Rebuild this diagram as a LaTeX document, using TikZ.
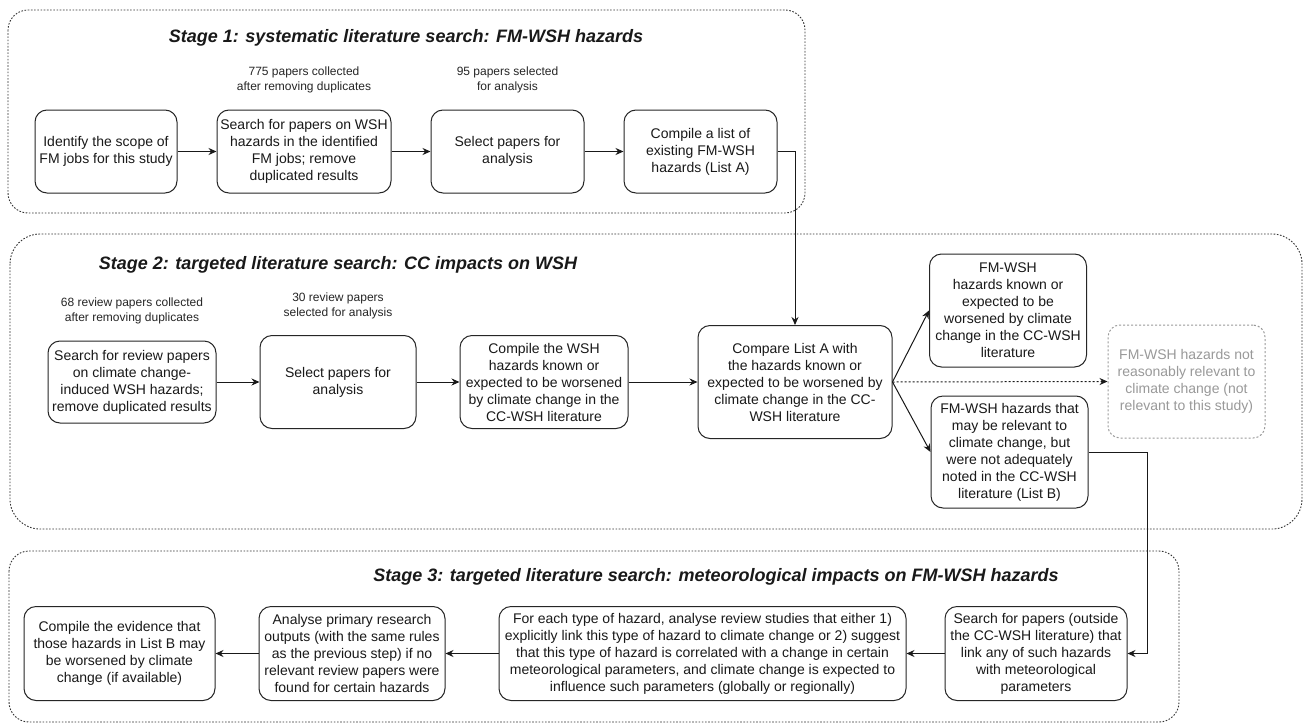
\documentclass[tikz,border=0pt]{standalone}
\usepackage{fontspec}
\setmainfont{Liberation Sans}
\usetikzlibrary{arrows.meta,positioning}

\begin{document}
\begin{tikzpicture}[
  x=1pt, y=-1pt,
  font=\fontsize{14}{17}\selectfont,
  node distance=39pt,
  stepbox/.style={draw=black!85, line width=1pt, rounded corners=12pt, align=center, inner sep=2pt, minimum height=83pt, text=black!90},
  greybox/.style={stepbox, draw=black!40, text=black!40, dash pattern=on 2pt off 2pt},
  note/.style={font=\fontsize{12}{15}\selectfont, align=center, text=black!85, inner sep=0pt},
  stagebox/.style={draw=black!80, line width=0.9pt, dash pattern=on 1.6pt off 1.6pt},
  stagetitle/.style={font=\fontsize{18}{21}\selectfont\bfseries\itshape, text=black!90},
  flow/.style={-{Stealth[length=8pt,width=7pt]}, line width=1pt, black!90},
  maybe/.style={flow, dash pattern=on 2pt off 2pt},
]
\useasboundingbox[fill=white] (0,0) rectangle (1305,725);

% stage frames
\draw[stagebox, rounded corners=20pt] (8,10) rectangle (805,213);
\draw[stagebox, rounded corners=30pt] (10,234) rectangle (1302,529);
\draw[stagebox, rounded corners=20pt] (9,551) rectangle (1179,722);

% stage 1
\node[stagetitle] (t1) at (406,38) {Stage 1: systematic literature search: FM-WSH hazards};
\node[stepbox, minimum width=142pt] (scope) at (106,151.5) {Identify the scope of\\FM jobs for this study};
\node[stepbox, minimum width=174pt, right=of scope] (search) {Search for papers on WSH\\hazards in the identified\\FM jobs; remove\\duplicated results};
\node[stepbox, minimum width=153pt, right=of search] (select) {Select papers for\\analysis};
\node[stepbox, minimum width=153pt, right=of select] (listA) {Compile a list of\\existing FM-WSH\\hazards (List A)};
\node[note, above=16pt of search] (n775) {775 papers collected\\after removing duplicates};
\node[note, above=16pt of select] (n95) {95 papers selected\\for analysis};

\draw[flow] (scope) -- (search);
\draw[flow] (search) -- (select);
\draw[flow] (select) -- (listA);

% stage 2
\node[stagetitle] (t2) at (338,265) {Stage 2: targeted literature search: CC impacts on WSH};
\node[stepbox, minimum width=168pt, minimum height=82pt] (revsearch) at (132,382) {Search for review papers\\on climate change-\\induced WSH hazards;\\remove duplicated results};
\node[stepbox, minimum width=156pt, minimum height=93pt, right=43pt of revsearch] (revselect) {Select papers for\\analysis};
\node[stepbox, minimum width=168pt, minimum height=93pt, right=43pt of revselect] (ccwsh) {Compile the WSH\\hazards known or\\expected to be worsened\\by climate change in the\\CC-WSH literature};
\node[stepbox, minimum width=194pt, minimum height=113pt, right=69pt of ccwsh] (compare) {Compare List A with\\the hazards known or\\expected to be worsened by\\climate change in the CC-\\WSH literature};
\node[stepbox, minimum width=157pt, minimum height=113pt] (worse) at (1008,310.5) {FM-WSH\\hazards known or\\expected to be\\worsened by climate\\change in the CC-WSH\\literature};
\node[stepbox, minimum width=157pt, minimum height=112pt] (listB) at (1009.5,452) {FM-WSH hazards that\\may be relevant to\\climate change, but\\were not adequately\\noted in the CC-WSH\\literature (List B)};
\node[greybox, minimum width=157pt, minimum height=113pt] (notrel) at (1186.5,381.5) {FM-WSH hazards not\\reasonably relevant to\\climate change (not\\relevant to this study)};
\node[note, above=16pt of revsearch] (n68) {68 review papers collected\\after removing duplicates};
\node[note, above=16pt of revselect] (n30) {30 review papers\\selected for analysis};

\draw[flow] (listA.east) -| (compare.north);
\draw[flow] (revsearch) -- (revselect);
\draw[flow] (revselect) -- (ccwsh);
\draw[flow] (ccwsh) -- (compare);
\draw[flow] (compare.east) -- (worse.west);
\draw[flow] (compare.east) -- (listB.west);
\draw[maybe] (compare.east) -- (notrel.west);

% stage 3
\node[stagetitle] (t3) at (716,577) {Stage 3: targeted literature search: meteorological impacts on FM-WSH hazards};
\node[stepbox, minimum width=182pt, minimum height=94pt] (metsearch) at (1036,653.5) {Search for papers (outside\\the CC-WSH literature) that\\link any of such hazards\\with meteorological\\parameters};
\node[stepbox, minimum width=407pt, minimum height=94pt, left=38pt of metsearch] (review) {For each type of hazard, analyse review studies that either 1)\\explicitly link this type of hazard to climate change or 2) suggest\\that this type of hazard is correlated with a change in certain\\meteorological parameters, and climate change is expected to\\influence such parameters (globally or regionally)};
\node[stepbox, minimum width=186pt, minimum height=94pt, left=53pt of review] (primary) {Analyse primary research\\outputs (with the same rules\\as the previous step) if no\\relevant review papers were\\found for certain hazards};
\node[stepbox, minimum width=191pt, minimum height=94pt, left=43pt of primary] (evidence) {Compile the evidence that\\those hazards in List B may\\be worsened by climate\\change (if available)};

\draw[flow] (listB.east) -- ++(59,0) |- (metsearch.east);
\draw[flow] (metsearch) -- (review);
\draw[flow] (review) -- (primary);
\draw[flow] (primary) -- (evidence);
\end{tikzpicture}
\end{document}
